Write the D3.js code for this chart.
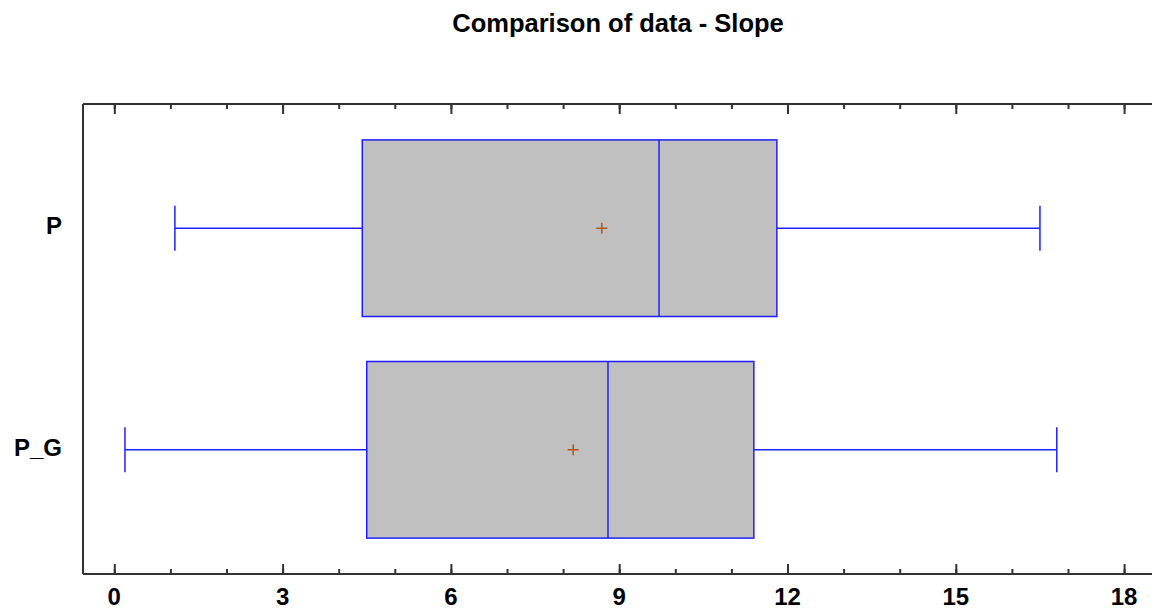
<!DOCTYPE html>
<meta charset="utf-8">
<head>
    <title>Comparison of data - Slope</title>
    <script type="text/javascript" src="https://cdn.jsdelivr.net/npm/d3@7"></script>
    <style>
        body { margin: 0; background: #fff; }
        text { font-family: "Liberation Sans", Arial, sans-serif; font-weight: bold; fill: #000; }
    </style>
</head>
<body>
    <div id="chart"></div>
    <script>
        // data
        var groups = ["P", "P_G"]
        var mins = [1.08, 0.19]
        var q1s = [4.42, 4.50]
        var medians = [9.71, 8.80]
        var q3s = [11.81, 11.40]
        var maxs = [16.50, 16.80]
        var means = [8.69, 8.18]
        var xTicks = [0, 3, 6, 9, 12, 15, 18]

        var width = 1152, height = 610
        var plot = {left: 83, right: 1153, top: 104, bottom: 574}

        var svg = d3.select("#chart").append("svg")
          .attr("width", width)
          .attr("height", height)

        var x = d3.scaleLinear().domain([0, 18]).range([114.3, 1124.1])
        var y = d3.scaleBand().domain(groups)
          .range([plot.top, plot.bottom])
          .paddingInner(0.203)
          .paddingOuter(0.162)

        // title
        svg.append("text")
          .attr("x", 618).attr("y", 32)
          .attr("text-anchor", "middle")
          .attr("font-size", "25.5px")
          .text("Comparison of data - Slope")

        var rows = groups.map(function(g, i) {
          return {g: g, min: mins[i], q1: q1s[i], med: medians[i], q3: q3s[i], max: maxs[i], mean: means[i]}
        })

        var boxes = svg.append("g").selectAll("g")
          .data(rows).enter().append("g")

        var blue = "#2020ff"
        // whiskers
        boxes.append("line")
          .attr("x1", d => x(d.min)).attr("x2", d => x(d.max))
          .attr("y1", d => y(d.g) + y.bandwidth() / 2)
          .attr("y2", d => y(d.g) + y.bandwidth() / 2)
          .attr("stroke", blue).attr("stroke-width", 1.5)
        boxes.selectAll(".cap")
          .data(d => [{g: d.g, v: d.min}, {g: d.g, v: d.max}])
          .enter().append("line").attr("class", "cap")
          .attr("x1", d => x(d.v)).attr("x2", d => x(d.v))
          .attr("y1", d => y(d.g) + y.bandwidth() / 2 - 22.5)
          .attr("y2", d => y(d.g) + y.bandwidth() / 2 + 22.5)
          .attr("stroke", blue).attr("stroke-width", 1.5)
        // box
        boxes.append("rect")
          .attr("x", d => x(d.q1)).attr("width", d => x(d.q3) - x(d.q1))
          .attr("y", d => y(d.g)).attr("height", y.bandwidth())
          .attr("fill", "#c0c0c0").attr("stroke", blue).attr("stroke-width", 1.5)
        boxes.append("line")
          .attr("x1", d => x(d.med)).attr("x2", d => x(d.med))
          .attr("y1", d => y(d.g)).attr("y2", d => y(d.g) + y.bandwidth())
          .attr("stroke", blue).attr("stroke-width", 1.5)
        // mean marker
        boxes.append("path")
          .attr("d", function(d) {
            var cx = x(d.mean), cy = y(d.g) + y.bandwidth() / 2
            return "M" + (cx - 5.5) + "," + cy + "H" + (cx + 5.5) + "M" + cx + "," + (cy - 5.5) + "V" + (cy + 5.5)
          })
          .attr("stroke", "#b0581c").attr("stroke-width", 1.5)

        // frame
        var frame = svg.append("g").attr("stroke", "#333").attr("stroke-width", 2)
        frame.append("line").attr("x1", plot.left).attr("x2", plot.right).attr("y1", plot.top).attr("y2", plot.top)
        frame.append("line").attr("x1", plot.left).attr("x2", plot.right).attr("y1", plot.bottom).attr("y2", plot.bottom)
        frame.append("line").attr("x1", plot.left).attr("x2", plot.left).attr("y1", plot.top).attr("y2", plot.bottom)

        // axes: ticks point inwards, top and bottom
        var minor = d3.range(0, 19, 1)
        svg.append("g").attr("transform", "translate(0," + plot.bottom + ")")
          .call(d3.axisTop(x).tickValues(minor).tickSize(5).tickFormat(""))
          .call(g => g.select(".domain").remove())
          .selectAll("line").attr("stroke", "#333").attr("stroke-width", 2)
        svg.append("g").attr("transform", "translate(0," + plot.bottom + ")")
          .call(d3.axisTop(x).tickValues(xTicks).tickSize(10).tickFormat(""))
          .call(g => g.select(".domain").remove())
          .selectAll("line").attr("stroke", "#333").attr("stroke-width", 2)
        svg.append("g").attr("transform", "translate(0," + plot.top + ")")
          .call(d3.axisBottom(x).tickValues(minor).tickSize(5).tickFormat(""))
          .call(g => g.select(".domain").remove())
          .selectAll("line").attr("stroke", "#333").attr("stroke-width", 2)
        svg.append("g").attr("transform", "translate(0," + plot.top + ")")
          .call(d3.axisBottom(x).tickValues(xTicks).tickSize(10).tickFormat(""))
          .call(g => g.select(".domain").remove())
          .selectAll("line").attr("stroke", "#333").attr("stroke-width", 2)

        // tick labels
        svg.append("g").selectAll("text")
          .data(xTicks).enter().append("text")
          .attr("x", d => x(d)).attr("y", 605)
          .attr("text-anchor", "middle")
          .attr("font-size", "24px")
          .text(d => d)

        // group labels
        svg.append("g").selectAll("text")
          .data(groups).enter().append("text")
          .attr("x", 62)
          .attr("y", d => y(d) + y.bandwidth() / 2 + 6)
          .attr("text-anchor", "end")
          .attr("font-size", "24px")
          .text(d => d)
    </script>
</body>
</html>
